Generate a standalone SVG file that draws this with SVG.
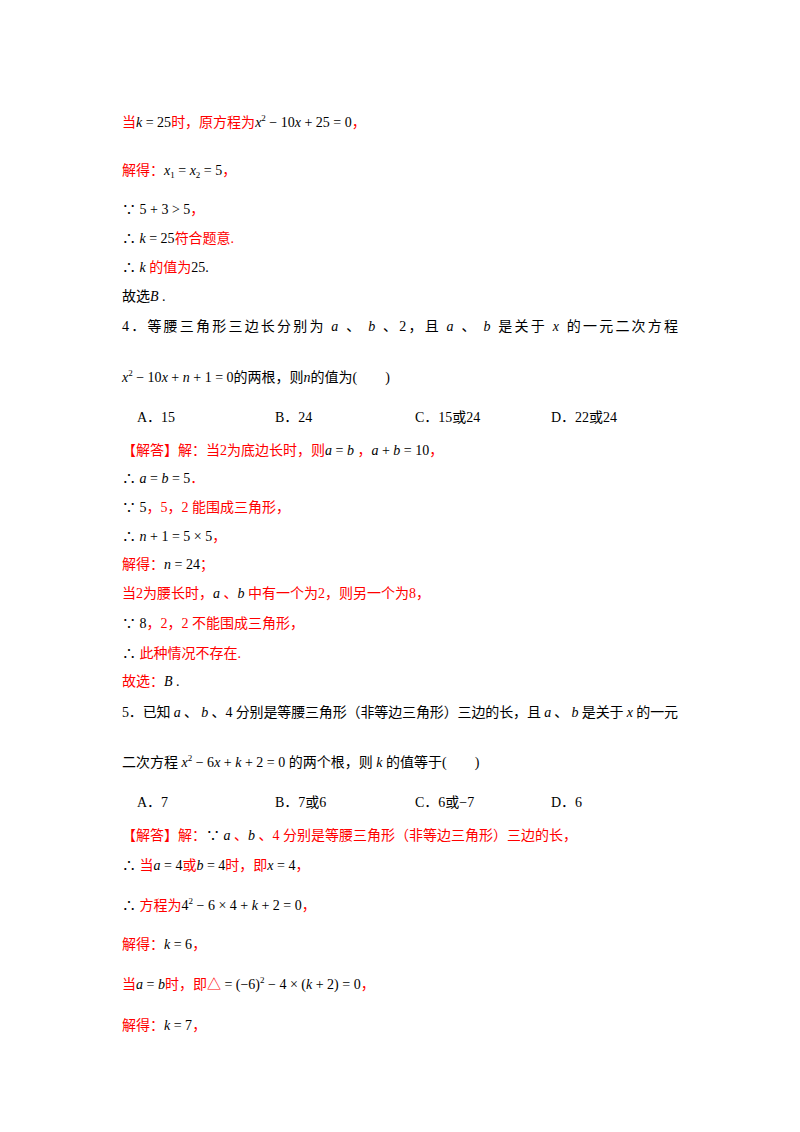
<svg xmlns="http://www.w3.org/2000/svg" width="800" height="1132" viewBox="0 0 800 1132">
<style>
text{font-family:"Liberation Serif","Noto Sans CJK SC",serif;font-size:14px;fill:#000}
.r{fill:#ff0000}
.i{font-style:italic}
.s{font-size:9px}
</style>
<rect width="800" height="1132" fill="#fff"/>
<g id="content">
<text x="122" y="127"><tspan class="r">当</tspan><tspan class="i">k</tspan> = 25<tspan class="r">时，原方程为</tspan><tspan class="i">x</tspan><tspan class="s" dy="-6">2</tspan><tspan dy="6"> − 10</tspan><tspan class="i">x</tspan> + 25 = 0<tspan class="r">，</tspan></text>
<text x="122" y="175"><tspan class="r">解得：</tspan><tspan class="i">x</tspan><tspan class="s" dy="3">1</tspan><tspan dy="-3"> = </tspan><tspan class="i">x</tspan><tspan class="s" dy="3">2</tspan><tspan dy="-3"> = 5</tspan><tspan class="r">，</tspan></text>
<text x="122" y="214">∵ 5 + 3 &gt; 5<tspan class="r">，</tspan></text>
<text x="122" y="243">∴ <tspan class="i">k</tspan> = 25<tspan class="r">符合题意.</tspan></text>
<text x="122" y="272">∴ <tspan class="i">k</tspan><tspan class="r"> 的值为</tspan>25.</text>
<text x="122" y="301">故选<tspan class="i">B</tspan> .</text>
<text x="122" y="331" textLength="556" lengthAdjust="spacing">4．等腰三角形三边长分别为 <tspan class="i">a</tspan> 、 <tspan class="i">b</tspan> 、2，且 <tspan class="i">a</tspan> 、 <tspan class="i">b</tspan> 是关于 <tspan class="i">x</tspan> 的一元二次方程</text>
<text x="122" y="382"><tspan class="i">x</tspan><tspan class="s" dy="-6">2</tspan><tspan dy="6"> − 10</tspan><tspan class="i">x</tspan> + <tspan class="i">n</tspan> + 1 = 0的两根，则<tspan class="i">n</tspan>的值为(　　)</text>
<text x="137" y="422">A．15</text>
<text x="275" y="422">B．24</text>
<text x="415" y="422">C．15或24</text>
<text x="551" y="422">D．22或24</text>
<text x="122" y="455" class="r">【解答】解：当2为底边长时，则<tspan class="i" fill="#000">a</tspan><tspan fill="#000"> = </tspan><tspan class="i" fill="#000">b</tspan> ，<tspan class="i" fill="#000">a</tspan><tspan fill="#000"> + </tspan><tspan class="i" fill="#000">b</tspan><tspan fill="#000"> = 10</tspan>，</text>
<text x="122" y="483">∴ <tspan class="i">a</tspan> = <tspan class="i">b</tspan> = 5<tspan class="r">．</tspan></text>
<text x="122" y="512">∵ 5<tspan class="r">，5，2 能围成三角形，</tspan></text>
<text x="122" y="541">∴ <tspan class="i">n</tspan> + 1 = 5 × 5<tspan class="r">，</tspan></text>
<text x="122" y="569"><tspan class="r">解得：</tspan><tspan class="i">n</tspan> = 24<tspan class="r">；</tspan></text>
<text x="122" y="598" class="r">当2为腰长时，<tspan class="i" fill="#000">a</tspan> 、<tspan class="i" fill="#000">b</tspan> 中有一个为2，则另一个为8，</text>
<text x="122" y="628">∵ 8<tspan class="r">，2，2 不能围成三角形，</tspan></text>
<text x="122" y="658">∴<tspan class="r"> 此种情况不存在.</tspan></text>
<text x="122" y="686"><tspan class="r">故选：</tspan><tspan class="i">B</tspan> .</text>
<text x="122" y="717" textLength="556" lengthAdjust="spacing">5．已知 <tspan class="i">a</tspan> 、 <tspan class="i">b</tspan> 、4 分别是等腰三角形（非等边三角形）三边的长，且 <tspan class="i">a</tspan> 、 <tspan class="i">b</tspan> 是关于 <tspan class="i">x</tspan> 的一元</text>
<text x="122" y="767">二次方程 <tspan class="i">x</tspan><tspan class="s" dy="-6">2</tspan><tspan dy="6"> − 6</tspan><tspan class="i">x</tspan> + <tspan class="i">k</tspan> + 2 = 0 的两个根，则 <tspan class="i">k</tspan> 的值等于(　　)</text>
<text x="137" y="807">A．7</text>
<text x="275" y="807">B．7或6</text>
<text x="415" y="807">C．6或−7</text>
<text x="551" y="807">D．6</text>
<text x="122" y="840" class="r">【解答】解：<tspan fill="#000">∵ </tspan><tspan class="i" fill="#000">a</tspan> 、<tspan class="i" fill="#000">b</tspan> 、4 分别是等腰三角形（非等边三角形）三边的长，</text>
<text x="122" y="870">∴ <tspan class="r">当</tspan><tspan class="i">a</tspan> = 4<tspan class="r">或</tspan><tspan class="i">b</tspan> = 4<tspan class="r">时，即</tspan><tspan class="i">x</tspan> = 4<tspan class="r">，</tspan></text>
<text x="122" y="910">∴ <tspan class="r">方程为</tspan>4<tspan class="s" dy="-6">2</tspan><tspan dy="6"> − 6 × 4 + </tspan><tspan class="i">k</tspan> + 2 = 0<tspan class="r">，</tspan></text>
<text x="122" y="949"><tspan class="r">解得：</tspan><tspan class="i">k</tspan> = 6<tspan class="r">，</tspan></text>
<text x="122" y="989"><tspan class="r">当</tspan><tspan class="i">a</tspan> = <tspan class="i">b</tspan><tspan class="r">时，即△</tspan> = (−6)<tspan class="s" dy="-6">2</tspan><tspan dy="6"> − 4 × (</tspan><tspan class="i">k</tspan> + 2) = 0<tspan class="r">，</tspan></text>
<text x="122" y="1030"><tspan class="r">解得：</tspan><tspan class="i">k</tspan> = 7<tspan class="r">，</tspan></text>
</g>
</svg>
